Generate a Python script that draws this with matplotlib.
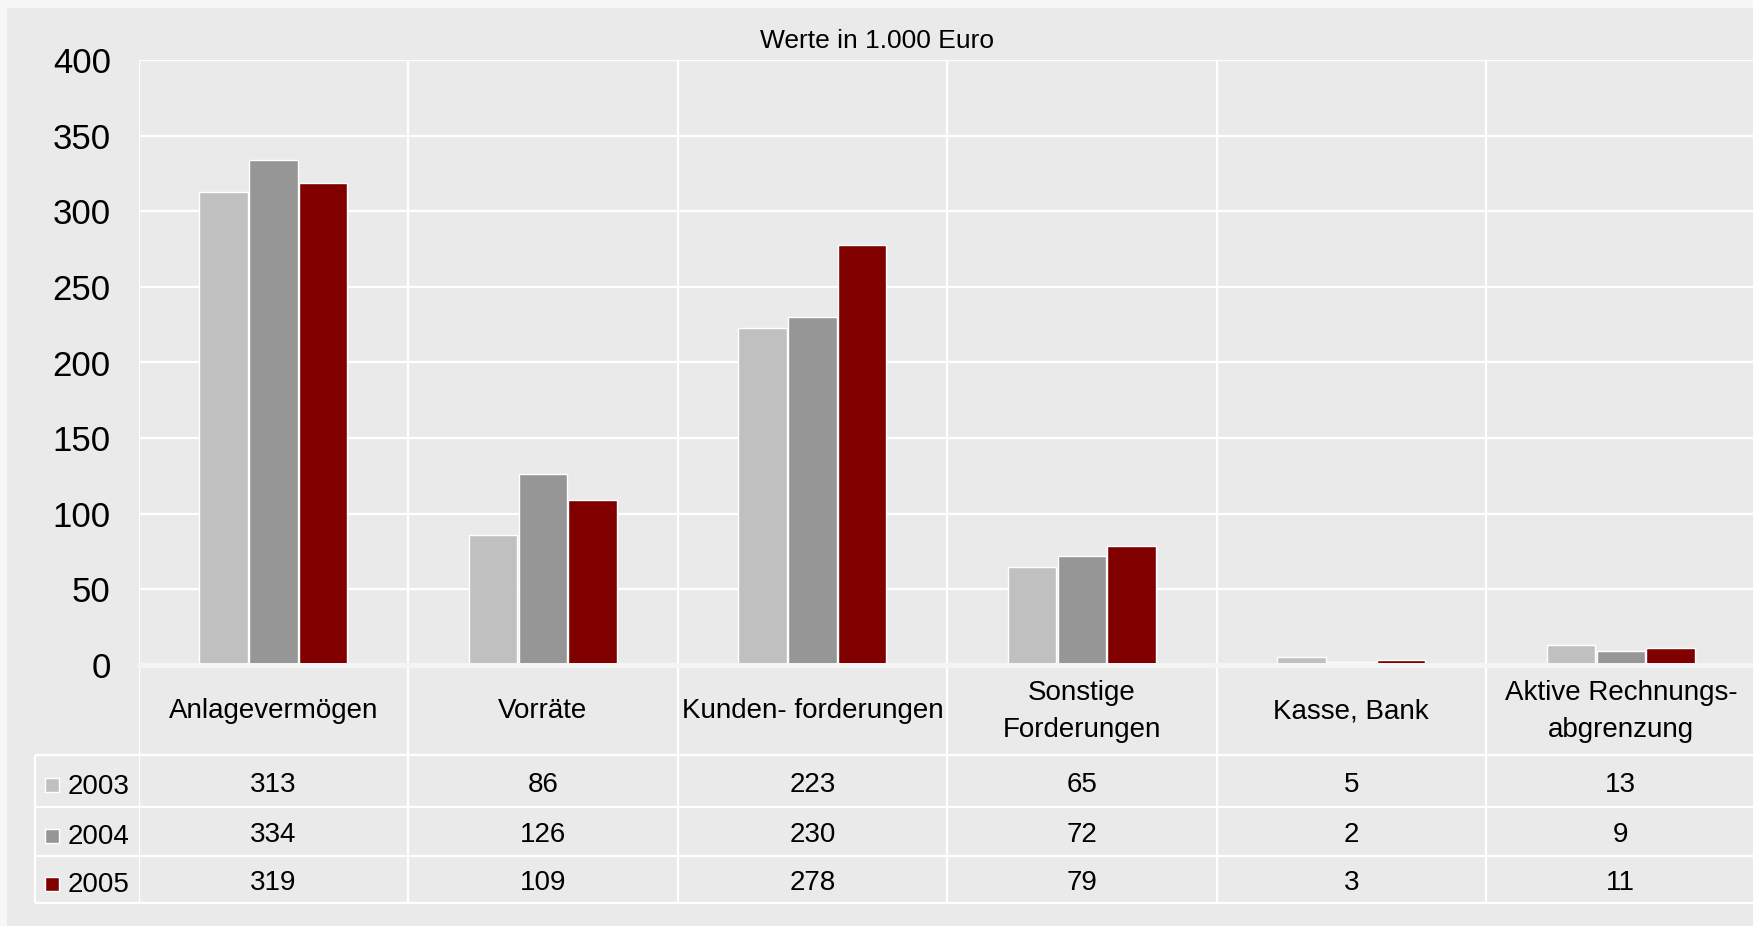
import matplotlib
matplotlib.use("Agg")
import matplotlib.pyplot as plt
from matplotlib.patches import Rectangle
import numpy as np

plt.rcParams['font.family'] = ['Liberation Sans', 'DejaVu Sans']

categories = ["Anlagevermögen", "Vorräte", "Kunden- forderungen",
              "Sonstige\nForderungen", "Kasse, Bank", "Aktive Rechnungs-\nabgrenzung"]
years = ["2003", "2004", "2005"]
v2003 = [313, 86, 223, 65, 5, 13]
v2004 = [334, 126, 230, 72, 2, 9]
v2005 = [319, 109, 278, 79, 3, 11]
series = [v2003, v2004, v2005]
colors = ["#c0c0c0", "#969696", "#800000"]
yticks = [0, 50, 100, 150, 200, 250, 300, 350, 400]
title = "Werte in 1.000 Euro"

W, H = 1753, 926
fig = plt.figure(figsize=(W / 100, H / 100), dpi=100, facecolor="#f7f7f7")
panel_bg = "#e9eae9"
fig.patches.append(Rectangle((7 / W, 0), 1, (H - 8) / H, transform=fig.transFigure,
                             facecolor=panel_bg, edgecolor="none", zorder=-10))

# layout in pixels (from top)
left_px = 138.6
cat_px = 269.5
top_px, zero_px, tab_bot_px = 60, 665, 903
ncat = len(categories)
ax_w = ncat * cat_px / W

ax = fig.add_axes([left_px / W, (H - zero_px) / H, ax_w, (zero_px - top_px) / H])
ax.set_facecolor(panel_bg)
x = np.arange(ncat)
bw = 0.18
offs = [-0.185, 0.0, 0.185]
for vals, c, o in zip(series, colors, offs):
    ax.bar(x + o, vals, width=bw, color=c, edgecolor="white", linewidth=1, zorder=3)

ax.set_xlim(-0.5, ncat - 0.5)
ax.set_ylim(0, 400)
ax.set_yticks(yticks)
ax.set_yticklabels([str(t) for t in yticks], fontsize=25, color="black")
ax.tick_params(axis="y", length=0, pad=20)
ax.set_xticks([])
ax.grid(axis="y", color="white", linewidth=1.6, zorder=1)
ax.vlines(np.arange(ncat + 1) - 0.5, 0, 400, color="white", linewidth=1.6, zorder=1)
ax.axhline(0, color="#f4f4f4", linewidth=3.6, solid_capstyle="round", clip_on=False, zorder=4)
for s in ax.spines.values():
    s.set_visible(False)

fig.text(0.5, (H - 41) / H, title, ha="center", va="center", fontsize=19)

# data table below the plot
tab = fig.add_axes([left_px / W, (H - tab_bot_px) / H, ax_w, (tab_bot_px - zero_px) / H],
                   sharex=ax)
tab.set_ylim(tab_bot_px, zero_px)
tab.axis("off")
row_lines = [668, 755, 807, 856, 903]
leg_left = -0.5 - (left_px - 35) / cat_px

tab.vlines(np.arange(ncat + 1) - 0.5, 668, 903, color="white", linewidth=1.6)
tab.vlines(leg_left, 755, 903, color="white", linewidth=1.6, clip_on=False)
for y in row_lines[1:]:
    tab.hlines(y, leg_left, ncat - 0.5, color="white", linewidth=1.6, clip_on=False)

hdr_y = (row_lines[0] + row_lines[1]) / 2
for i, cat in enumerate(categories):
    tab.text(i, hdr_y, cat, ha="center", va="center", fontsize=20, linespacing=1.55)

sq_x = -0.5 - (left_px - 52) / cat_px
txt_x = -0.5 - (left_px - 68) / cat_px
for r, (yr, vals, c) in enumerate(zip(years, series, colors)):
    yc = (row_lines[r + 1] + row_lines[r + 2]) / 2 + 4
    tab.scatter([sq_x], [yc], marker="s", s=100, color=c, edgecolor="white",
                linewidth=1, clip_on=False)
    tab.text(txt_x, yc + 2, yr, ha="left", va="center", fontsize=20)
    for i, v in enumerate(vals):
        tab.text(i, yc, str(v), ha="center", va="center", fontsize=20)

fig.savefig("out.png", dpi=100, facecolor=fig.get_facecolor())
